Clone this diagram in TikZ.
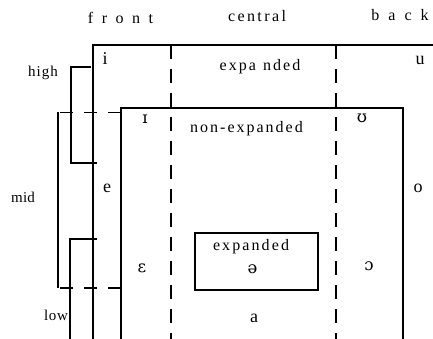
\documentclass[tikz,border=0pt]{standalone}
\usepackage{fontspec}
\setmainfont{Liberation Serif}
\newfontfamily\ipafont{DejaVu Serif}
\newcommand\lsp[2]{\def\lspk{#1}\lspaux#2\lspend}
\def\lspaux#1#2\lspend{#1\ifx\relax#2\relax\else\kern\lspk\lspaux#2\lspend\fi}
\begin{document}
\begin{tikzpicture}[x=1pt,y=-1pt,
  ln/.style={line width=1.1pt},
  vdash/.style={line width=1.1pt, dash pattern=on 14pt off 10pt},
  hdash/.style={line width=1.1pt, dash pattern=on 13pt off 11pt},
  lab/.style={anchor=base, inner sep=0pt, font=\fontsize{16}{18}\selectfont},
  side/.style={anchor=base, inner sep=0pt, font=\fontsize{15}{17}\selectfont},
  vow/.style={anchor=base, inner sep=0pt, font=\fontsize{18}{20}\selectfont},
  ipa/.style={anchor=base, inner sep=0pt, font=\fontsize{16.5}{18}\ipafont}]
\useasboundingbox (0,0) rectangle (433,339);
% outer (expanded) box
\coordinate (otl) at (93,45);
\coordinate (otr) at (433,45);
\coordinate (obl) at (93,339);
\draw[ln] (obl) -- (otl) -- (otr);
% inner (non-expanded) box
\coordinate (itl) at (121,108);
\coordinate (itr) at (403,108);
\coordinate (ibl) at (121,339);
\coordinate (ibr) at (403,339);
\draw[ln] (ibl) -- (itl) -- (itr) -- (ibr);
% dashed column dividers
\coordinate (d1t) at (171,45);
\coordinate (d1b) at (171,339);
\coordinate (d2t) at (336,45);
\coordinate (d2b) at (336,339);
\draw[vdash] (d1t) -- (d1b);
\draw[vdash] (d2t) -- (d2b);
% small expanded box
\coordinate (sbtl) at (195,233);
\coordinate (sbbr) at (318,290);
\draw[ln] (sbtl) rectangle (sbbr);
% high bracket
\coordinate (h1) at (91,67);
\coordinate (h2) at (71,67);
\coordinate (h3) at (71,163);
\coordinate (h4) at (97,163);
\draw[ln] (h1) -- (h2) -- (h3) -- (h4);
% mid bracket
\coordinate (m1) at (121,112.5);
\coordinate (m2) at (58,112.5);
\coordinate (m3) at (58,288);
\coordinate (m4) at (121,288);
\draw[hdash] (m1) -- (m2);
\draw[ln] (m2) -- (m3);
\draw[hdash] (m4) -- (m3);
% low bracket
\coordinate (l1) at (97,239);
\coordinate (l2) at (70,239);
\coordinate (l3) at (70,339);
\draw[ln] (l1) -- (l2) -- (l3);
% column headings
\node[lab] (front) at (120.5,24) {\lsp{8.5pt}{front}};
\node[lab] (central) at (257,22) {\lsp{2.4pt}{central}};
\node[lab] (back) at (400,21) {\lsp{9pt}{back}};
% row labels
\node[side] (high) at (43,77) {\lsp{1.1pt}{high}};
\node[side] (mid) at (23,202) {\lsp{0.3pt}{mid}};
\node[side] (low) at (56,320) {\lsp{0.7pt}{low}};
% region labels
\node[lab] (exp1) at (260,71) {\lsp{2.1pt}{expa}\kern7pt\lsp{2.1pt}{nded}};
\node[lab] (nonexp) at (246.5,133) {\lsp{2pt}{non-expanded}};
\node[lab] (exp2) at (251,250) {\lsp{2.1pt}{expanded}};
% vowels
\node[vow] (vi) at (105,65) {i};
\node[vow] (vu) at (420,65) {u};
\node[ipa] (vI) at (145,124) {ɪ};
\node[ipa] (vU) at (362,123) {ʊ};
\node[vow] (ve) at (107,192) {e};
\node[vow] (vo) at (418,192) {o};
\node[ipa] (veps) at (142,272) {ɛ};
\node[ipa] (vopen) at (369,270) {ɔ};
\node[ipa] (vschwa) at (252.5,273) {ə};
\node[vow] (va) at (254,322) {a};
\end{tikzpicture}
\end{document}
